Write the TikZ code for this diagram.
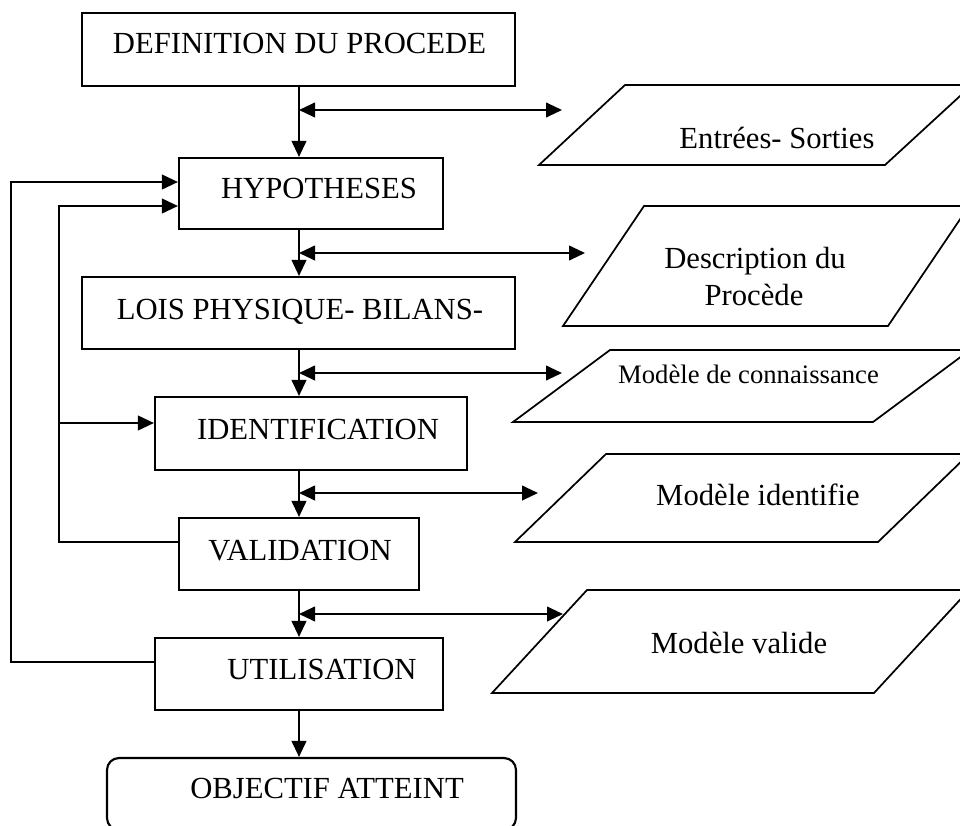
\documentclass[tikz,border=0pt]{standalone}
\usepackage{fontspec}
\setmainfont{Liberation Serif}
\usetikzlibrary{arrows.meta}

\tikzset{
  box/.style={draw, line width=1.6pt, inner sep=0pt},
  sz/.style 2 args={minimum width=#1*0.75pt, minimum height=#2*0.75pt},
  txt/.style={anchor=base, inner sep=0pt, font=\fontsize{23}{27.6}\selectfont},
  small/.style={anchor=base, inner sep=0pt, font=\fontsize{20}{24}\selectfont},
  tip/.tip={Triangle[length=12pt,width=11pt]},
  arr/.style={line width=1.5pt, -tip},
  darr/.style={line width=1.5pt, tip-tip},
  para/.style={draw, line width=1.3pt, line join=miter}
}

\begin{document}
\begin{tikzpicture}[x=0.75pt, y=-0.75pt]
\useasboundingbox (0,0) rectangle (960,825);
\clip (0,0) rectangle (960,825);

% process steps
\node[box, sz={433}{73}] (def)   at (298.5,49.5) {};
\node[box, sz={264}{71}] (hyp)   at (311,193.5) {};
\node[box, sz={433}{72}] (lois)  at (298.5,313) {};
\node[box, sz={312}{73}] (ident) at (311,433.5) {};
\node[box, sz={240}{72}] (valid) at (299,554) {};
\node[box, sz={288}{72}] (util)  at (299,674) {};
\node[box, sz={409}{72}, rounded corners=9pt] (obj) at (311.5,794) {};

\node[txt] (tdef)   at (299.5,53) {DEFINITION DU PROCEDE};
\node[txt] (thyp)   at (319,198)  {HYPOTHESES};
\node[txt] (tlois)  at (300,319)  {LOIS PHYSIQUE- BILANS-};
\node[txt] (tident) at (318,439)  {IDENTIFICATION};
\node[txt] (tvalid) at (300,560)  {VALIDATION};
\node[txt] (tutil)  at (322,679)  {UTILISATION};
\node[txt] (tobj)   at (327,798)  {OBJECTIF ATTEINT};

% main flow along the spine
\coordinate (sp) at (299,0);
\draw[arr] (def.south -| sp)   -- (hyp.north -| sp);
\draw[arr] (hyp.south -| sp)   -- (lois.north -| sp);
\draw[arr] (lois.south -| sp)  -- (ident.north -| sp);
\draw[arr] (ident.south -| sp) -- (valid.north -| sp);
\draw[arr] (valid.south -| sp) -- (util.north -| sp);
\draw[arr] (util.south -| sp)  -- (obj.north -| sp);

% exchanges with the side documents
\coordinate (j1) at (299,110); \coordinate (e1) at (562,110);
\coordinate (j2) at (299,253); \coordinate (e2) at (585,253);
\coordinate (j3) at (299,373); \coordinate (e3) at (562,373);
\coordinate (j4) at (299,493); \coordinate (e4) at (538,493);
\coordinate (j5) at (299,614); \coordinate (e5) at (563,614);
\draw[darr] (j1) -- (e1);
\draw[darr] (j2) -- (e2);
\draw[darr] (j3) -- (e3);
\draw[darr] (j4) -- (e4);
\draw[darr] (j5) -- (e5);

% feedback loops
\coordinate (lo) at (11,182);
\coordinate (li) at (59,206);
\coordinate (br) at (59,423);
\draw[arr] (util.west |- 0,662) -| (lo) -- (hyp.west |- lo);
\draw[arr] (valid.west |- 0,542) -| (li) -- (hyp.west |- li);
\draw[arr] (br) -- (ident.west |- br);

% side documents
\draw[para] (625,85) -- (972,85) -- (885,165) -- (539,165) -- cycle;
\draw[para] (644,206) -- (969,206) -- (888,326) -- (563,326) -- cycle;
\draw[para] (610,350) -- (970,350) -- (873,422) -- (513,422) -- cycle;
\draw[para] (606,454) -- (969,454) -- (878,542) -- (515,542) -- cycle;
\draw[para] (587,590) -- (969,590) -- (874,693) -- (492,693) -- cycle;

\node[txt]   (tes)   at (777,148) {Entrées- Sorties};
\node[txt]   (tdesc) at (755,268) {Description du};
\node[txt]   (tproc) at (754,305) {Procède};
\node[small] (tcon)  at (748.5,383) {Modèle de connaissance};
\node[txt]   (tmid)  at (758,505) {Modèle identifie};
\node[txt]   (tmva)  at (739,653) {Modèle valide};
\end{tikzpicture}
\end{document}
